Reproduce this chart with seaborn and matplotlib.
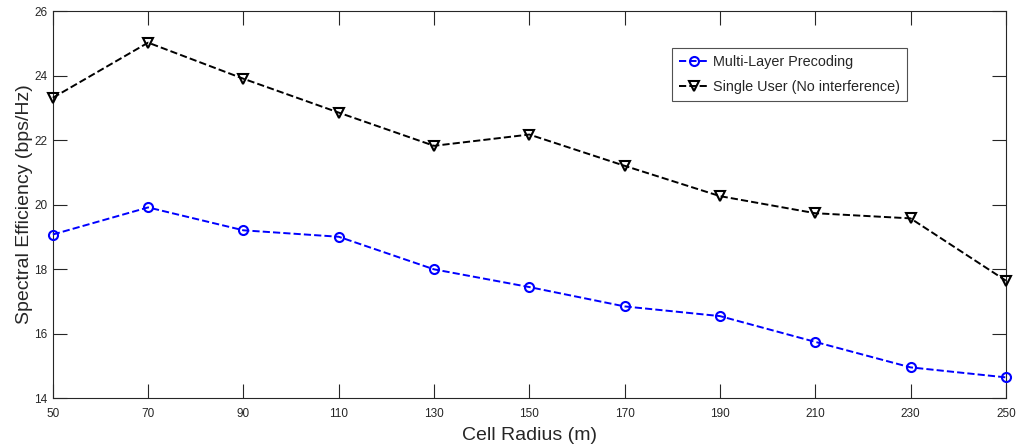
import numpy as np
import pandas as pd
import seaborn as sns
import matplotlib
matplotlib.use("Agg")
import matplotlib.pyplot as plt

# セル半径 (m)
radius = [50, 70, 90, 110, 130, 150, 170, 190, 210, 230, 250]
multi_layer = [19.07, 19.91, 19.20, 19.00, 17.99, 17.44, 16.84, 16.54, 15.74, 14.95, 14.64]
single_user = [23.31, 25.02, 23.90, 22.85, 21.82, 22.17, 21.20, 20.26, 19.73, 19.57, 17.64]
x_ticks = [50, 70, 90, 110, 130, 150, 170, 190, 210, 230, 250]
y_ticks = [14, 16, 18, 20, 22, 24, 26]

sns.set_style("ticks")
plt.rcParams['font.family'] = ['Liberation Sans', 'DejaVu Sans']

fig = plt.figure(figsize=(10.16, 4.48), dpi=100)
ax = fig.add_axes([0.052, 0.1116, 0.938, 0.8638])

axis_gray = '#262626'

sns.lineplot(x=radius, y=multi_layer, ax=ax, color='blue', linestyle='--',
             dashes=(3.5, 2.5), marker='o', markersize=6.5, markerfacecolor='none',
             markeredgecolor='blue', markeredgewidth=1.5, linewidth=1.4,
             label='Multi-Layer Precoding', clip_on=False, zorder=3)
sns.lineplot(x=radius, y=single_user, ax=ax, color='black', linestyle='--',
             dashes=(3.5, 2.5), marker='v', markersize=7.5, markerfacecolor='none',
             markeredgecolor='black', markeredgewidth=1.5, linewidth=1.4,
             label='Single User (No interference)', clip_on=False, zorder=3)

ax.set_xlim(50, 250)
ax.set_ylim(14, 26)
ax.set_xticks(x_ticks)
ax.set_yticks(y_ticks)
ax.tick_params(direction='in', length=10, width=0.8, top=True, right=True,
               labelsize=8.5, colors=axis_gray)
ax.tick_params(axis='x', pad=7)
ax.tick_params(axis='y', pad=4)
for s in ax.spines.values():
    s.set_color(axis_gray)
    s.set_linewidth(0.8)

ax.set_xlabel('Cell Radius (m)', fontsize=14, color=axis_gray, labelpad=5)
ax.set_ylabel('Spectral Efficiency (bps/Hz)', fontsize=14, color=axis_gray, labelpad=1)

leg = ax.legend(loc='upper left', bbox_to_anchor=(0.6495, 0.904), fontsize=10.4,
                frameon=True, fancybox=False, edgecolor=axis_gray,
                handlelength=2.1, borderpad=0.5, labelspacing=0.75,
                handletextpad=0.25, borderaxespad=0)
leg.get_frame().set_linewidth(0.8)

fig.savefig('out.png', dpi=100)
